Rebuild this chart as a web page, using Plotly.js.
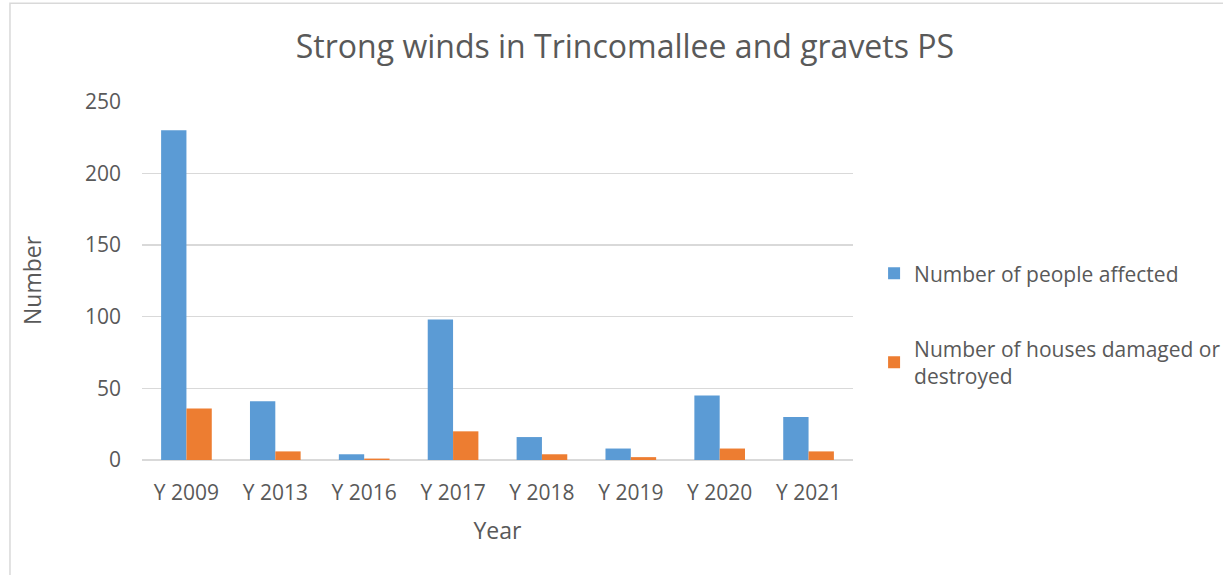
<!DOCTYPE html>
<html>
<head>
<meta charset="utf-8">
<script src="https://cdn.plot.ly/plotly-3.0.1.min.js"></script>
<style>html,body{margin:0;padding:0;background:#fff;}#chart{width:1223px;height:575px;}</style>
</head>
<body>
<div id="chart"></div>
<script>
const categories = ["Y 2009", "Y 2013", "Y 2016", "Y 2017", "Y 2018", "Y 2019", "Y 2020", "Y 2021"];
const peopleAffected = [230, 41, 4, 98, 16, 8, 45, 30];
const housesDamaged = [36, 6, 1, 20, 4, 2, 8, 6];
const seriesNames = ["Number of people affected", "Number of houses damaged or<br>destroyed"];
const yTicks = [0, 50, 100, 150, 200, 250];

const textColor = "#595959";
const fontFamily = "'Open Sans', Lato, sans-serif";

const data = [
  {type: "bar", x: categories, y: peopleAffected, name: seriesNames[0], legendgroup: "a",
   marker: {color: "#5B9BD5"}, hoverinfo: "x+y"},
  {type: "bar", x: categories, y: housesDamaged, name: seriesNames[1], legendgroup: "b",
   marker: {color: "#ED7D31"}, hoverinfo: "x+y"}
];

const layout = {
  width: 1223, height: 575,
  margin: {l: 142, r: 370, t: 101, b: 115, autoexpand: false},
  paper_bgcolor: "#fff", plot_bgcolor: "#fff",
  font: {family: fontFamily, color: textColor, size: 21},
  title: {text: "Strong winds in Trincomallee and gravets PS", x: 0.511, xanchor: "center", y: 0.918, yanchor: "middle",
          font: {size: 32, color: textColor, family: fontFamily}},
  barmode: "group", bargap: 0.43, bargroupgap: 0,
  xaxis: {
    title: {text: "Year", font: {size: 23, color: textColor}, standoff: 17},
    tickfont: {size: 21, color: textColor},
    showline: false, showgrid: false, ticks: "", ticklabelstandoff: 18,
    fixedrange: true
  },
  yaxis: {
    title: {text: "Number", font: {size: 23, color: textColor}, standoff: 36},
    range: [0, 250.4], tickvals: yTicks, ticktext: yTicks.map(String),
    tickfont: {size: 21, color: textColor},
    showgrid: true, gridcolor: "#d9d9d9", gridwidth: 1.5,
    zeroline: true, zerolinecolor: "#d9d9d9", zerolinewidth: 2,
    showline: false, ticks: "", ticklabelstandoff: 20, fixedrange: true
  },
  legend: {xref: "container", x: 0.7147, xanchor: "left", y: 0.377, yanchor: "middle",
           font: {size: 21, color: textColor}, tracegroupgap: 45, itemwidth: 30,
           traceorder: "grouped"},
  shapes: [{type: "rect", xref: "paper", yref: "paper", x0: -0.1857, x1: 1.8, y0: -0.5, y1: 1.272,
            line: {color: "#d9d9d9", width: 1.5}, fillcolor: "rgba(0,0,0,0)", layer: "below"}]
};

Plotly.newPlot("chart", data, layout, {staticPlot: true, displayModeBar: false});
</script>
</body>
</html>
